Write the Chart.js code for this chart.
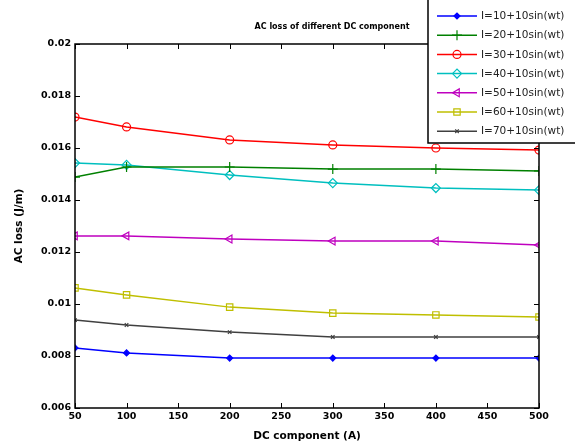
<!DOCTYPE html>
<html>
<head>
<meta charset="utf-8">
<script src="https://cdn.jsdelivr.net/npm/chart.js@4/dist/chart.umd.min.js"></script>
<style>
html,body{margin:0;padding:0;background:#fff;}
canvas{display:block;}
</style>
</head>
<body>
<canvas id="c" width="575" height="443"></canvas>
<script>
// ---- data ----
const categories = [50, 100, 200, 300, 400, 500];
const seriesLabels = ['I=10+10sin(wt)', 'I=20+10sin(wt)', 'I=30+10sin(wt)', 'I=40+10sin(wt)', 'I=50+10sin(wt)', 'I=60+10sin(wt)', 'I=70+10sin(wt)'];
const i10 = [0.00831, 0.00812, 0.00792, 0.00792, 0.00792, 0.00792];
const i20 = [0.01488, 0.01527, 0.01527, 0.01519, 0.01519, 0.01512];
const i30 = [0.01719, 0.01681, 0.01631, 0.01612, 0.01600, 0.01592];
const i40 = [0.01542, 0.01535, 0.01496, 0.01465, 0.01446, 0.01438];
const i50 = [0.01262, 0.01262, 0.01250, 0.01242, 0.01242, 0.01227];
const i60 = [0.01062, 0.01035, 0.00988, 0.00965, 0.00958, 0.00950];
const i70 = [0.00938, 0.00919, 0.00892, 0.00873, 0.00873, 0.00873];
const xTicks = [50, 100, 150, 200, 250, 300, 350, 400, 450, 500];
const yTicks = [0.006, 0.008, 0.01, 0.012, 0.014, 0.016, 0.018, 0.02];
const chartTitle = 'AC loss of different DC component';
const xTitle = 'DC component (A)';
const yTitle = 'AC loss (J/m)';

// ---- styles ----
const seriesValues = [i10, i20, i30, i40, i50, i60, i70];
const colors = ['#0000ff', '#008000', '#ff0000', '#00bfbf', '#bf00bf', '#bfbf00', '#404040'];
const markers = [
  {pointStyle: 'rectRot', radius: 3, fill: true, rotation: 0},
  {pointStyle: 'cross', radius: 5, fill: false, rotation: 0},
  {pointStyle: 'circle', radius: 4, fill: false, rotation: 0},
  {pointStyle: 'rectRot', radius: 4.5, fill: false, rotation: 0},
  {pointStyle: 'triangle', radius: 4.5, fill: false, rotation: -90},
  {pointStyle: 'rect', radius: 4.5, fill: false, rotation: 0},
  {pointStyle: 'crossRot', radius: 2.5, fill: false, rotation: 0}
];

const datasets = seriesValues.map((arr, k) => ({
  label: seriesLabels[k],
  data: categories.map((x, i) => ({x: x, y: arr[i]})),
  borderColor: colors[k],
  backgroundColor: colors[k],
  borderWidth: 1.5,
  pointStyle: markers[k].pointStyle,
  pointRadius: markers[k].radius,
  pointRotation: markers[k].rotation,
  pointBorderWidth: 1.2,
  pointBorderColor: colors[k],
  pointBackgroundColor: markers[k].fill ? colors[k] : 'rgba(0,0,0,0)',
  tension: 0
}));

const tickFont = {family: 'DejaVu Sans', size: 9.5, weight: 'bold'};

function drawMarker(ctx, m, color, x, y) {
  ctx.save();
  ctx.strokeStyle = color;
  ctx.fillStyle = m.fill ? color : 'rgba(0,0,0,0)';
  ctx.lineWidth = 1.2;
  if (Chart.helpers && Chart.helpers.drawPoint) {
    Chart.helpers.drawPoint(ctx, {pointStyle: m.pointStyle, rotation: m.rotation, radius: m.radius, borderWidth: 1.2}, x, y);
  } else {
    ctx.beginPath(); ctx.arc(x, y, m.radius, 0, Math.PI * 2); ctx.stroke();
  }
  ctx.restore();
}

const framePlugin = {
  id: 'frame',
  afterDatasetsDraw(chart) {
    const ctx = chart.ctx;
    const a = chart.chartArea;
    const xs = chart.scales.x, ys = chart.scales.y;
    ctx.save();
    ctx.strokeStyle = '#000';
    ctx.lineWidth = 1.5;
    ctx.strokeRect(a.left, a.top, a.right - a.left, a.bottom - a.top);
    ctx.lineWidth = 1;
    ctx.beginPath();
    const tl = 5;
    xTicks.forEach(v => {
      const px = Math.round(xs.getPixelForValue(v)) + 0.5;
      ctx.moveTo(px, a.bottom); ctx.lineTo(px, a.bottom - tl);
      ctx.moveTo(px, a.top); ctx.lineTo(px, a.top + tl);
    });
    yTicks.forEach(v => {
      const py = Math.round(ys.getPixelForValue(v)) + 0.5;
      ctx.moveTo(a.left, py); ctx.lineTo(a.left + tl, py);
      ctx.moveTo(a.right, py); ctx.lineTo(a.right - tl, py);
    });
    ctx.stroke();

    // title
    ctx.fillStyle = '#000';
    ctx.font = 'bold 8px "DejaVu Sans"';
    ctx.textAlign = 'center';
    ctx.textBaseline = 'middle';
    ctx.fillText(chartTitle, 332, 27);

    // legend
    const lx = 428, ltop = -3, lw = 160, lbottom = 143;
    ctx.fillStyle = '#fff';
    ctx.fillRect(lx, ltop, lw, lbottom - ltop);
    ctx.strokeStyle = '#000';
    ctx.lineWidth = 1.5;
    ctx.strokeRect(lx, ltop, lw, lbottom - ltop);
    ctx.font = '10.5px "DejaVu Sans"';
    ctx.textAlign = 'left';
    ctx.textBaseline = 'middle';
    chart.data.datasets.forEach((ds, k) => {
      const y = 16 + k * 19.2;
      ctx.strokeStyle = colors[k];
      ctx.lineWidth = 1.5;
      ctx.beginPath();
      ctx.moveTo(437, y); ctx.lineTo(477, y);
      ctx.stroke();
      drawMarker(ctx, markers[k], colors[k], 457, y);
      ctx.fillStyle = '#222';
      ctx.fillText(ds.label, 481, y + 0.5);
    });
    ctx.restore();
  }
};

new Chart(document.getElementById('c'), {
  type: 'line',
  data: {datasets: datasets},
  options: {
    responsive: false,
    animation: false,
    layout: {padding: {left: 0, top: 44, right: 36, bottom: 0}},
    plugins: {legend: {display: false}, title: {display: false}, tooltip: {enabled: false}},
    scales: {
      x: {
        type: 'linear', min: 50, max: 500,
        afterBuildTicks: s => { s.ticks = xTicks.map(v => ({value: v})); },
        afterFit: s => { s.height = 35; },
        grid: {display: false, drawTicks: false},
        border: {display: false},
        ticks: {color: '#000', font: tickFont, padding: 3, maxRotation: 0, autoSkip: false, callback: v => String(v)},
        title: {display: true, text: xTitle, color: '#000', font: {family: 'DejaVu Sans', size: 10.5, weight: 'bold'}, padding: {top: 0, bottom: 0}}
      },
      y: {
        type: 'linear', min: 0.006, max: 0.02,
        afterBuildTicks: s => { s.ticks = yTicks.map(v => ({value: v})); },
        afterFit: s => { s.width = 75; },
        grid: {display: false, drawTicks: false},
        border: {display: false},
        ticks: {color: '#000', font: tickFont, padding: 4, autoSkip: false, callback: v => String(+(+v).toFixed(3))},
        title: {display: true, text: yTitle, color: '#000', font: {family: 'DejaVu Sans', size: 10.5, weight: 'bold'}, padding: {top: 13, bottom: 0}}
      }
    }
  },
  plugins: [framePlugin]
});
</script>
</body>
</html>
